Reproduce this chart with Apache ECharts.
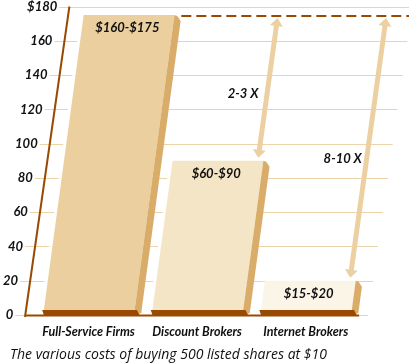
<!DOCTYPE html>
<html><head><meta charset="utf-8">
<script src="https://cdn.jsdelivr.net/npm/echarts@6/dist/echarts.min.js"></script>
<style>html,body{margin:0;padding:0;background:#fff}#c{width:409px;height:364px}</style>
</head><body><div id="c"></div>
<script>
// ---- data ----
const categories = ['Full-Service Firms', 'Discount Brokers', 'Internet Brokers'];
const lowCost = [160, 60, 15];
const highCost = [175, 90, 20];
const multiples = ['', '2-3 X', '8-10 X'];
const yTicks = [0, 20, 40, 60, 80, 100, 120, 140, 160, 180];
const caption = 'The various costs of buying 500 listed shares at $10';

// ---- styles ----
const FONT = 'Lato, "Open Sans", sans-serif';
const CAP_FONT = '"Open Sans", sans-serif';
const BROWN = '#994a00';
const GRIDC = '#edd4a8';
const FRONT = ['#ebcf9f', '#f4e5c7', '#fbf5e8'];
const SIDE = '#d9ad69';
const ARROWC = '#ecd0a2';
const K_BAR = 0.135, K_AXIS = 0.143, K_ARR = 0.138;
const BAR_RATIO = 0.836;

function tickText(v) { return v === 180 ? '$' + v : String(v); }
const rich = {};
yTicks.forEach(v => {
  rich['p' + v] = {
    padding: [0, (180 - v) * 0.245, 0, 0],
    fontFamily: FONT, fontWeight: 'bold', fontStyle: 'italic', fontSize: 13, color: '#111'
  };
});

function axisX(params, y0, y) { return params.coordSys.x - 9 + (y0 - y) * K_AXIS; }

function renderGrid(params, api) {
  const v = api.value(1);
  const y0 = api.coord([0, 0])[1];
  const y = Math.round(api.coord([0, v])[1]) + 0.5;
  const ax = axisX(params, y0, y);
  return { type: 'line', shape: { x1: ax - 10, y1: y, x2: ax + 343, y2: y },
    style: { stroke: GRIDC, lineWidth: 1 } };
}

function renderBar(params, api) {
  const i = api.value(0), v = api.value(1);
  const c0 = api.coord([i, 0]);
  const cx = c0[0], y0 = c0[1];
  const yT = api.coord([i, v])[1];
  const band = api.size([1, 0])[0];
  const w = band * BAR_RATIO;
  const xl = cx - w / 2, xr = xl + w;
  const yB = y0 - 5;
  const sh = (x, y) => [x + (y0 - y) * K_BAR, y];
  const mid = sh(cx, yT + 13);
  return { type: 'group', children: [
    { type: 'polygon', shape: { points: [sh(xl - 3, yT + 1), sh(xl, yT + 1), sh(xl, y0), sh(xl - 3, y0)] }, style: { fill: '#fff' } },
    { type: 'polygon', shape: { points: [sh(xl, yT), sh(xr, yT), sh(xr, yB), sh(xl, yB)] }, style: { fill: FRONT[i] } },
    { type: 'polygon', shape: { points: [sh(xr, yT), sh(xr + 3, yT + 1), sh(xr + 7, yT + 6), sh(xr + 7, y0 - 2), sh(xr, y0 + 1)] }, style: { fill: SIDE } },
    { type: 'polygon', shape: { points: [[xl - 1, yB], [xr + 3, yB], [xr + 6, y0 + 1], [xl + 1, y0 + 1]] }, style: { fill: BROWN } },
    { type: 'text', x: mid[0], y: mid[1], style: { text: '$' + lowCost[i] + '-$' + highCost[i],
      fontFamily: FONT, fontWeight: 'bold', fontStyle: 'italic', fontSize: 13, fill: '#111', align: 'center', verticalAlign: 'middle' } }
  ] };
}

function renderAxis(params, api) {
  const y0 = api.coord([0, 0])[1];
  const yTop = api.coord([0, 180])[1];
  const band = api.size([1, 0])[0];
  const c0 = api.coord([0, 0])[0];
  const yD = Math.round(api.coord([0, highCost[0]])[1]) + 1;
  const xD = c0 + band * BAR_RATIO / 2 + 7 + (y0 - yD) * K_BAR;
  const lastX = api.coord([categories.length - 1, 0])[0] + band * BAR_RATIO / 2 + 8;
  return { type: 'group', children: [
    { type: 'line', shape: { x1: axisX(params, y0, y0 + 2), y1: y0 + 2, x2: axisX(params, y0, yTop), y2: yTop }, style: { stroke: BROWN, lineWidth: 2 } },
    { type: 'line', shape: { x1: axisX(params, y0, y0), y1: y0 + 0.5, x2: lastX, y2: y0 + 0.5 }, style: { stroke: BROWN, lineWidth: 2 } },
    { type: 'line', shape: { x1: xD, y1: yD, x2: api.getWidth(), y2: yD }, style: { stroke: BROWN, lineWidth: 2, lineDash: [10, 5] } }
  ] };
}

function renderArrow(params, api) {
  const i = api.value(0), v = api.value(1);
  const c0 = api.coord([i, 0]);
  const y0 = c0[1];
  const band = api.size([1, 0])[0];
  const xb = c0[0] + band * BAR_RATIO / 2 - 6;
  const yTop = api.coord([i, highCost[0]])[1] + 3;
  const yBot = api.coord([i, v])[1] - 3;
  const P = y => [xb + (y0 - y) * K_ARR, y];
  const a = P(yBot), b = P(yTop);
  const dx = b[0] - a[0], dy = b[1] - a[1], L = Math.hypot(dx, dy);
  const ux = dx / L, uy = dy / L, nx = -uy, ny = ux;
  const hw = 2.5, hh = 6.5, hl = 8;
  const pt = (o, al, sd) => [o[0] + ux * al + nx * sd, o[1] + uy * al + ny * sd];
  const pts = [a, pt(a, hl, hh), pt(a, hl, hw), pt(b, -hl, hw), pt(b, -hl, hh), b,
    pt(b, -hl, -hh), pt(b, -hl, -hw), pt(a, hl, -hw), pt(a, hl, -hh)];
  const ly = api.coord([i, v + (highCost[0] - v) * 0.46])[1];
  const lx = P(ly)[0] - 24;
  return { type: 'group', children: [
    { type: 'polygon', shape: { points: pts }, style: { fill: ARROWC } },
    { type: 'text', x: lx, y: ly, style: { text: multiples[i], fontFamily: FONT, fontWeight: 'bold', fontStyle: 'italic',
      fontSize: 13, fill: '#111', align: 'center', verticalAlign: 'middle' } }
  ] };
}

const chart = echarts.init(document.getElementById('c'), null, { renderer: 'canvas' });
chart.setOption({
  animation: false,
  backgroundColor: '#fff',
  title: { text: caption, left: 5, top: 343,
    textStyle: { fontFamily: CAP_FONT, fontSize: 14, fontStyle: 'italic', fontWeight: 'normal', color: '#111' } },
  grid: { left: 30, right: 49, top: 6, bottom: 49, containLabel: false },
  xAxis: { type: 'category', data: categories,
    axisLine: { show: false }, axisTick: { show: false }, splitLine: { show: false },
    axisLabel: { interval: 0, hideOverlap: false, margin: 10, fontFamily: FONT, fontWeight: 'bold', fontStyle: 'italic', fontSize: 12.5, color: '#111' } },
  yAxis: { type: 'value', min: 0, max: 180, interval: 20, offset: -23,
    axisLine: { show: false }, axisTick: { show: false }, splitLine: { show: false },
    axisLabel: { margin: 0, formatter: v => '{p' + v + '|' + tickText(v) + '}', rich: rich } },
  series: [
    { type: 'custom', z: 1, silent: true, renderItem: renderGrid, data: yTicks.map(v => [0, v]) },
    { type: 'custom', z: 2, silent: true, renderItem: renderBar, data: highCost.map((v, i) => [i, v]) },
    { type: 'custom', z: 3, silent: true, renderItem: renderAxis, data: [[0, 180]] },
    { type: 'custom', z: 4, silent: true, renderItem: renderArrow, data: highCost.map((v, i) => [i, v]).slice(1) }
  ]
});
</script></body></html>
